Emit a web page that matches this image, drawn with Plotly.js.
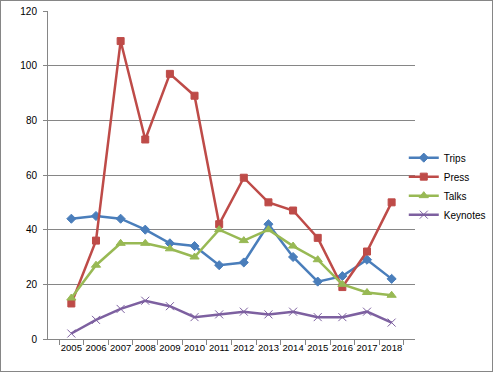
<!DOCTYPE html>
<html><head><meta charset="utf-8">
<script src="https://cdn.plot.ly/plotly-3.0.1.min.js"></script>
<style>body{margin:0;}#wrap{position:relative;width:493px;height:372px;}#frame{position:absolute;left:0;top:0;width:491px;height:370px;border:1px solid #868686;pointer-events:none;}</style>
</head><body>
<div id="wrap"><div id="chart" style="width:493px;height:372px;"></div><div id="frame"></div></div>
<script>
const years = ['2005','2006','2007','2008','2009','2010','2011','2012','2013','2014','2015','2016','2017','2018'];
const trips = [44,45,44,40,35,34,27,28,42,30,21,23,29,22];
const press = [13,36,109,73,97,89,42,59,50,47,37,19,32,50];
const talks = [15,27,35,35,33,30,40,36,40,34,29,20,17,16];
const keynotes = [2,7,11,14,12,8,9,10,9,10,8,8,10,6];

function tr(name, y, color, symbol, size){
  return {x: years, y: y, name: name, type:'scatter', mode:'lines+markers',
    line:{color:color, width:2.5},
    marker:{symbol:symbol, size:size, color:color, line:{color:color, width:1}}};
}
const data = [
  tr('Trips', trips, '#4A7EBB', 'diamond', 7),
  tr('Press', press, '#BE4B48', 'square', 7),
  tr('Talks', talks, '#98B954', 'triangle-up', 8),
  tr('Keynotes', keynotes, '#7D60A0', 'x-thin-open', 8)
];
const layout = {
  width:493, height:372,
  margin:{l:48, r:0, t:11, b:33},
  paper_bgcolor:'#fff', plot_bgcolor:'#fff',
  font:{family:'Liberation Sans, Arial, sans-serif', size:10, color:'#000'},
  showlegend:true,
  legend:{x:0.995, xanchor:'right', y:0.466, yanchor:'middle', font:{size:10}, itemwidth:30, tracegroupgap:0, bgcolor:'rgba(0,0,0,0)'},
  xaxis:{domain:[0, 0.8247], type:'category', showline:true, linecolor:'#868686', linewidth:1, ticks:'outside', tickson:'boundaries', ticklen:5, tickcolor:'#868686', showgrid:false, fixedrange:true, tickangle:0, tickfont:{size:9.5}, automargin:false},
  yaxis:{range:[0,120], dtick:20, showline:true, linecolor:'#868686', linewidth:1, gridcolor:'#868686', gridwidth:1, ticks:'outside', ticklen:4, tickcolor:'#868686', zeroline:false, tickfont:{size:10}, ticklabelstandoff:4, automargin:false}
};
Plotly.newPlot('chart', data, layout, {displayModeBar:false, staticPlot:true});
</script>
</body></html>
